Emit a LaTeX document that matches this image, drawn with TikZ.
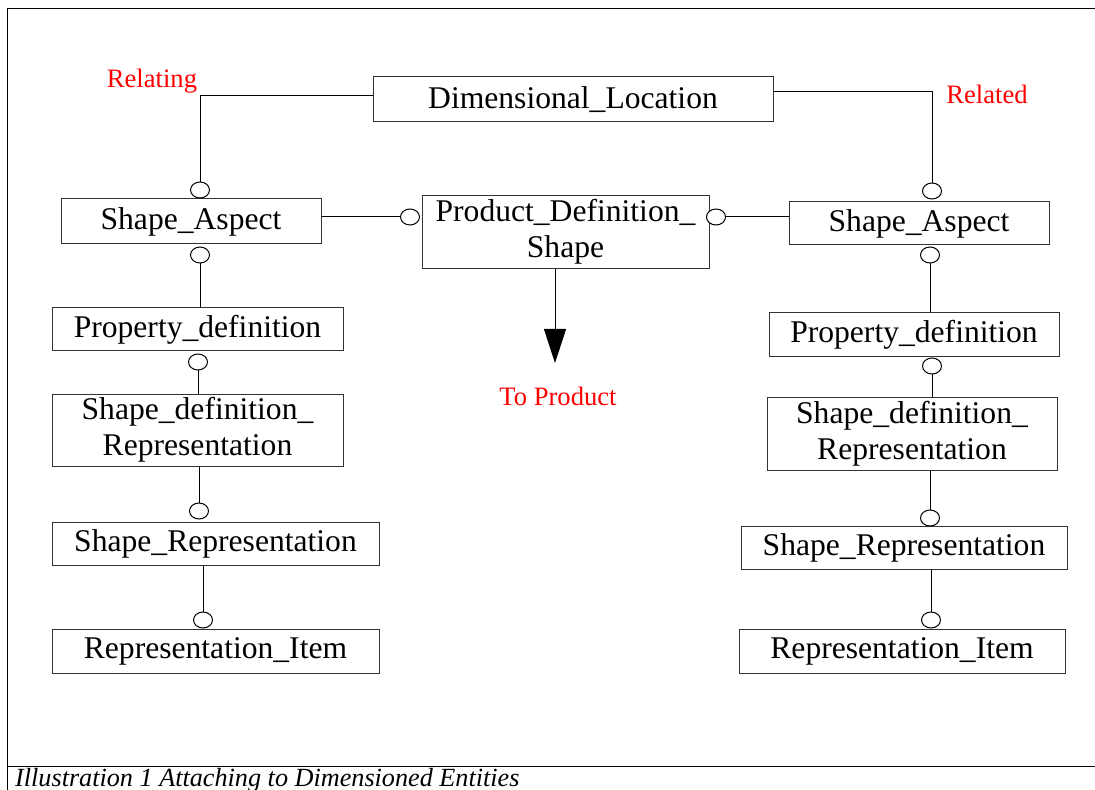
\documentclass[tikz,border=0pt]{standalone}
\usepackage{fontspec}
\setmainfont{Liberation Serif}
\usetikzlibrary{arrows.meta, positioning, shapes.geometric}

\begin{document}
\begin{tikzpicture}[x=0.5pt,y=-0.5pt,line width=0.5pt,
	ent/.style={draw=black!80, inner sep=0pt, align=center, font=\fontsize{15.8}{18}\selectfont},
	ring/.style={draw, ellipse, fill=white, inner sep=0pt, minimum width=9.5pt, minimum height=8pt},
	role/.style={text=red, font=\fontsize{13.3}{15}\selectfont}]

	\useasboundingbox (0,0) rectangle (1095,790);
	\draw (1095,9) -- (7,9) -- (7,790);
	\draw (7,766) -- (1095,766);
	\node (cap) [anchor=base west, font=\fontsize{13.1}{15}\selectfont\itshape] at (8,786) {Illustration 1 Attaching to Dimensioned Entities};

	% entities
	\node (dl) [ent, minimum width=200pt, minimum height=22.5pt] at (573,99.5) {Dimensional\_Location};
	\node (pds) [ent, minimum width=143.5pt, minimum height=36.5pt] at (565.5,232) {Product\_Definition\_\\Shape};

	\node (saL) [ent, minimum width=130pt, minimum height=22.5pt] at (191,221.5) {Shape\_Aspect};
	\node (pdL) [ent, minimum width=145.5pt, minimum height=21.5pt] at (197.5,329.5) {Property\_definition};
	\node (sdrL) [ent, minimum width=145.5pt, minimum height=36pt] at (197.5,430) {Shape\_definition\_\\Representation};
	\node (srL) [ent, minimum width=163.5pt, minimum height=21.5pt] at (215.5,543.5) {Shape\_Representation};
	\node (riL) [ent, minimum width=163.5pt, minimum height=22pt] at (215.5,651) {Representation\_Item};

	\node (saR) [ent, minimum width=130pt, minimum height=21.5pt] at (919,223.5) {Shape\_Aspect};
	\node (pdR) [ent, minimum width=145pt, minimum height=22pt] at (914,335) {Property\_definition};
	\node (sdrR) [ent, minimum width=145pt, minimum height=36.5pt] at (912,434) {Shape\_definition\_\\Representation};
	\node (srR) [ent, minimum width=163pt, minimum height=21.5pt] at (904,547.5) {Shape\_Representation};
	\node (riR) [ent, minimum width=163pt, minimum height=22pt] at (902,651) {Representation\_Item};

	% role labels
	\node (relating) [role] at (152,81) {Relating};
	\node (related) [role] at (987,94) {Related};
	\node (toprod) [role] at (558,396) {To Product};
	\coordinate (tp) at (555,363);

	% connectors
	\draw ([yshift=1.75pt]dl.west) -| (200,182);
	\draw ([yshift=3.75pt]dl.east) -| (932,183);
	\draw (saL.east |- 0,217) -- (401,217);
	\draw (726,217) -- (saR.west |- 0,217);
	\draw [-{Triangle[length=17pt,width=11pt]}] (pds.south -| tp) -- (tp);

	\draw (200,263) -- (pdL.north -| 200,0);
	\draw (198,369) -- (sdrL.north -| 198,0);
	\draw (sdrL.south -| 199,0) -- (199,503);
	\draw (srL.south -| 203,0) -- (203,613);

	\draw (930,263) -- (pdR.north -| 930,0);
	\draw (932,374) -- (sdrR.north -| 932,0);
	\draw (sdrR.south -| 930,0) -- (930,510);
	\draw (srR.south -| 931,0) -- (931,613);

	% rings
	\node (oSaLt) [ring] at (200,190) {};
	\node (oSaLb) [ring] at (200,255) {};
	\node (oPdL) [ring] at (198,362) {};
	\node (oSrL) [ring] at (199,511) {};
	\node (oRiL) [ring] at (203,620) {};
	\node (oPdsL) [ring] at (410,217) {};
	\node (oPdsR) [ring] at (716,217) {};
	\node (oSaRt) [ring] at (932,191) {};
	\node (oSaRb) [ring] at (930,255) {};
	\node (oPdR) [ring] at (932,366) {};
	\node (oSrR) [ring] at (930,518) {};
	\node (oRiR) [ring] at (931,620) {};

\end{tikzpicture}
\end{document}
